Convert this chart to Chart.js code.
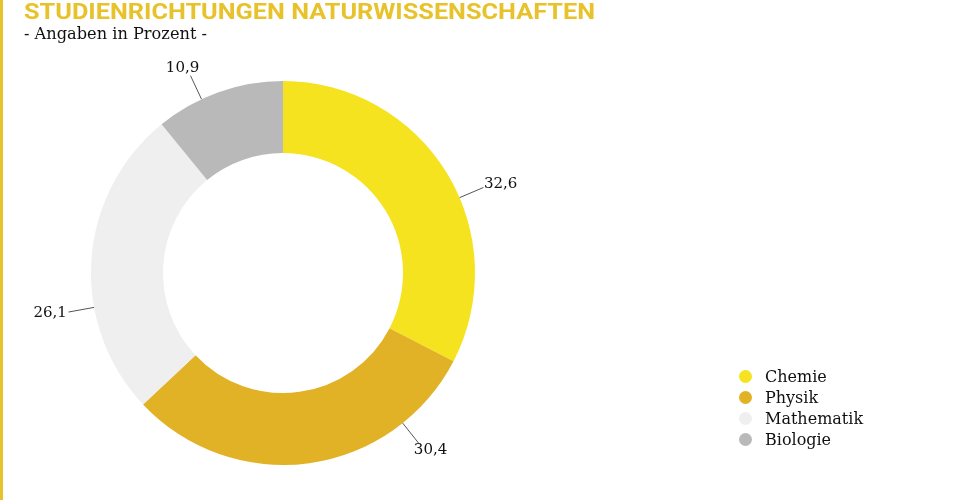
<!DOCTYPE html>
<html>
<head>
<meta charset="utf-8">
<script src="https://cdn.jsdelivr.net/npm/chart.js@4"></script>
<style>
  html, body { margin: 0; padding: 0; background: #fff; }
  #wrap { position: relative; width: 966px; height: 503px; overflow: hidden; }
  #c { position: absolute; left: 0; top: 0; }
  #bar { position: absolute; left: 0; top: 0; width: 3px; height: 500px; background: #e8c22a; }
  #title { position: absolute; left: 24px; top: -1px; font-family: Roboto, sans-serif; font-weight: 700;
           font-size: 22px; color: #e8c22a; white-space: nowrap; transform-origin: 0 0; }
  #sub { position: absolute; left: 24px; top: 24px; font-family: "DejaVu Serif", serif; font-size: 16px;
         color: #111; white-space: nowrap; transform-origin: 0 0; }
  #legend { position: absolute; left: 738px; top: 366px; font-family: "DejaVu Serif", serif; font-size: 16px; color: #111; }
  .li { height: 21px; line-height: 21px; position: relative; padding-left: 27px; white-space: nowrap; }
  .dot { position: absolute; left: 1px; top: 4px; width: 13px; height: 13px; border-radius: 50%; }
</style>
</head>
<body>
<div id="wrap">
  <canvas id="c" width="966" height="503"></canvas>
  <div id="bar"></div>
  <div id="title">STUDIENRICHTUNGEN NATURWISSENSCHAFTEN</div>
  <div id="sub">- Angaben in Prozent -</div>
  <div id="legend"></div>
</div>
<script>
const categories = ["Chemie", "Physik", "Mathematik", "Biologie"];
const values = [32.6, 30.4, 26.1, 10.9];
const valueLabels = ["32,6", "30,4", "26,1", "10,9"];
const colors = ["#f5e31f", "#e2b226", "#eeefee", "#b9b9b9"];

// fit title width
(function(){
  const t = document.getElementById('title');
  const w = t.getBoundingClientRect().width;
  t.style.transform = 'scaleX(' + (571 / w) + ')';
  const s = document.getElementById('sub');
  const sw = s.getBoundingClientRect().width;
  s.style.transform = 'scaleX(' + (183 / sw) + ')';
})();

// legend
const lg = document.getElementById('legend');
categories.forEach((c, i) => {
  const d = document.createElement('div');
  d.className = 'li';
  d.innerHTML = '<span class="dot" style="background:' + colors[i] + '"></span>' + c;
  lg.appendChild(d);
});

const leaderPlugin = {
  id: 'leaders',
  afterDatasetsDraw(chart, args, opts) {
    const ctx = chart.ctx;
    const meta = chart.getDatasetMeta(0);
    ctx.save();
    ctx.font = opts.font;
    ctx.fillStyle = '#111';
    ctx.strokeStyle = '#555';
    ctx.lineWidth = 1;
    meta.data.forEach((arc, i) => {
      const p = arc.getProps(['x', 'y', 'startAngle', 'endAngle', 'outerRadius']);
      const f = opts.fractions[i];
      const a = p.startAngle + (p.endAngle - p.startAngle) * f;
      const dx = Math.cos(a), dy = Math.sin(a);
      const r0 = p.outerRadius, r1 = p.outerRadius + opts.length;
      const x0 = p.x + dx * r0, y0 = p.y + dy * r0;
      const x1 = p.x + dx * r1, y1 = p.y + dy * r1;
      ctx.beginPath();
      ctx.moveTo(x0, y0);
      ctx.lineTo(x1, y1);
      ctx.stroke();
      const txt = valueLabels[i];
      const w = ctx.measureText(txt).width;
      const h = 12;
      const cx = x1 + dx * (w / 2 + 2);
      const cy = y1 + dy * (h / 2 + 2);
      ctx.textAlign = 'center';
      ctx.textBaseline = 'middle';
      ctx.fillText(txt, cx, cy);
    });
    ctx.restore();
  }
};

new Chart(document.getElementById('c'), {
  type: 'doughnut',
  data: {
    labels: categories,
    datasets: [{
      data: values,
      backgroundColor: colors,
      borderWidth: 0,
      hoverOffset: 0
    }]
  },
  options: {
    responsive: false,
    animation: false,
    cutout: '62.5%',
    layout: { padding: { left: 91, right: 491, top: 81, bottom: 38 } },
    plugins: {
      legend: { display: false },
      tooltip: { enabled: false },
      leaders: { fractions: [0.57, 0.22, 0.35, 0.36], length: 26, font: '15px "DejaVu Serif", serif' }
    }
  },
  plugins: [leaderPlugin]
});
</script>
</body>
</html>
